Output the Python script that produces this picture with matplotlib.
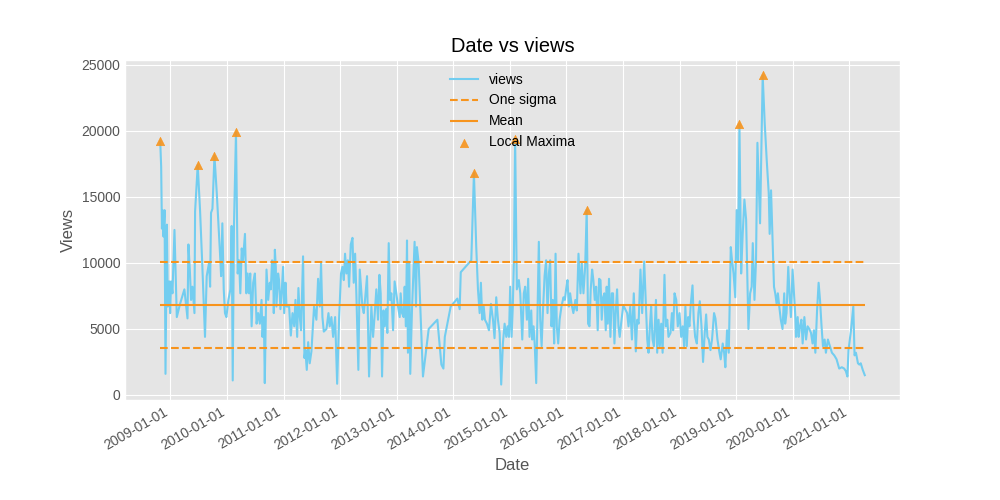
import matplotlib
matplotlib.use("Agg")
import matplotlib.pyplot as plt
import matplotlib.dates as mdates
import pandas as pd
from matplotlib import style

style.use("ggplot")
plt.rcParams["font.family"] = ["Liberation Sans", "DejaVu Sans"]

# weekly-ish samples
dates = [
    "2008-10-27", "2008-11-02", "2008-11-07", "2008-11-11", "2008-11-17", "2008-11-24", "2008-11-30",
    "2008-12-09", "2008-12-15", "2008-12-24", "2008-12-30", "2009-01-05", "2009-01-14", "2009-01-27",
    "2009-02-11", "2009-03-04", "2009-04-01", "2009-04-21", "2009-04-27", "2009-05-06", "2009-05-14",
    "2009-05-23", "2009-06-05", "2009-06-09", "2009-06-26", "2009-07-11", "2009-07-26", "2009-08-12",
    "2009-08-23", "2009-09-07", "2009-09-14", "2009-09-20", "2009-09-29", "2009-10-12", "2009-10-27",
    "2009-11-17", "2009-11-24", "2009-12-02", "2009-12-11", "2009-12-19", "2009-12-28", "2010-01-10",
    "2010-01-23", "2010-01-31", "2010-02-07", "2010-02-15", "2010-02-28", "2010-03-11", "2010-03-20",
    "2010-03-28", "2010-04-06", "2010-04-14", "2010-04-27", "2010-05-06", "2010-05-14", "2010-05-23",
    "2010-05-31", "2010-06-09", "2010-06-19", "2010-06-30", "2010-07-11", "2010-07-21", "2010-08-01",
    "2010-08-12", "2010-08-18", "2010-08-27", "2010-09-02", "2010-09-13", "2010-09-24", "2010-10-04",
    "2010-10-11", "2010-10-19", "2010-10-26", "2010-10-30", "2010-11-06", "2010-11-12", "2010-11-16",
    "2010-11-27", "2010-12-03", "2010-12-12", "2010-12-21", "2010-12-29", "2011-01-05", "2011-01-14",
    "2011-01-20", "2011-02-06", "2011-02-17", "2011-02-28", "2011-03-11", "2011-03-19", "2011-03-30",
    "2011-04-07", "2011-04-16", "2011-04-24", "2011-05-07", "2011-05-16", "2011-05-22", "2011-05-31",
    "2011-06-09", "2011-06-19", "2011-06-30", "2011-07-17", "2011-08-01", "2011-08-12", "2011-08-23",
    "2011-08-31", "2011-09-09", "2011-09-18", "2011-10-05", "2011-10-18", "2011-10-26", "2011-11-06",
    "2011-11-17", "2011-11-30", "2011-12-13", "2011-12-26", "2012-01-07", "2012-01-16", "2012-01-25",
    "2012-02-02", "2012-02-11", "2012-02-20", "2012-02-28", "2012-03-10", "2012-03-21", "2012-03-29",
    "2012-04-07", "2012-04-15", "2012-04-28", "2012-05-07", "2012-05-15", "2012-05-24", "2012-06-02",
    "2012-06-10", "2012-06-23", "2012-07-06", "2012-07-21", "2012-08-01", "2012-08-12", "2012-08-22",
    "2012-09-02", "2012-09-11", "2012-09-19", "2012-09-28", "2012-10-07", "2012-10-15", "2012-10-24",
    "2012-11-01", "2012-11-10", "2012-11-18", "2012-11-27", "2012-12-08", "2012-12-18", "2012-12-29",
    "2013-01-09", "2013-01-20", "2013-01-26", "2013-02-04", "2013-02-14", "2013-02-21", "2013-03-01",
    "2013-03-08", "2013-03-14", "2013-03-23", "2013-03-29", "2013-04-09", "2013-04-26", "2013-05-05",
    "2013-05-11", "2013-05-22", "2013-06-19", "2013-07-26", "2013-09-20", "2013-10-16", "2013-10-29",
    "2013-11-07", "2013-12-15", "2014-01-27", "2014-02-11", "2014-02-18", "2014-04-27", "2014-05-14",
    "2014-05-29", "2014-06-09", "2014-06-20", "2014-06-28", "2014-07-07", "2014-07-16", "2014-07-24",
    "2014-08-06", "2014-08-19", "2014-09-01", "2014-09-14", "2014-09-24", "2014-10-05", "2014-10-16",
    "2014-10-27", "2014-11-06", "2014-11-17", "2014-11-28", "2014-12-09", "2014-12-17", "2014-12-26",
    "2015-01-03", "2015-01-12", "2015-01-20", "2015-01-27", "2015-02-04", "2015-02-15", "2015-02-28",
    "2015-03-09", "2015-03-22", "2015-04-01", "2015-04-10", "2015-04-21", "2015-04-29", "2015-05-08",
    "2015-05-19", "2015-05-25", "2015-06-03", "2015-06-11", "2015-06-20", "2015-06-29", "2015-07-07",
    "2015-07-16", "2015-07-25", "2015-08-02", "2015-08-13", "2015-08-23", "2015-09-01", "2015-09-10",
    "2015-09-18", "2015-09-27", "2015-10-05", "2015-10-14", "2015-10-23", "2015-10-31", "2015-11-09",
    "2015-11-18", "2015-11-30", "2015-12-13", "2015-12-22", "2015-12-30", "2016-01-08", "2016-01-17",
    "2016-01-25", "2016-02-03", "2016-02-15", "2016-02-28", "2016-03-08", "2016-03-19", "2016-04-01",
    "2016-04-09", "2016-04-20", "2016-05-01", "2016-05-11", "2016-05-20", "2016-05-29", "2016-06-06",
    "2016-06-15", "2016-06-23", "2016-07-02", "2016-07-11", "2016-07-21", "2016-07-30", "2016-08-08",
    "2016-08-16", "2016-08-25", "2016-09-02", "2016-09-11", "2016-09-17", "2016-09-24", "2016-10-02",
    "2016-10-11", "2016-10-20", "2016-10-28", "2016-11-06", "2016-11-15", "2016-11-23", "2016-12-02",
    "2016-12-10", "2016-12-19", "2017-01-02", "2017-01-27", "2017-02-05", "2017-02-16", "2017-02-27",
    "2017-03-11", "2017-03-24", "2017-04-02", "2017-04-11", "2017-04-23", "2017-05-04", "2017-05-17",
    "2017-05-28", "2017-06-06", "2017-06-14", "2017-06-23", "2017-07-01", "2017-07-10", "2017-07-19",
    "2017-08-01", "2017-08-09", "2017-08-18", "2017-08-26", "2017-09-04", "2017-09-13", "2017-09-25",
    "2017-10-04", "2017-10-13", "2017-10-21", "2017-11-03", "2017-11-12", "2017-11-20", "2017-11-29",
    "2017-12-10", "2017-12-20", "2017-12-31", "2018-01-11", "2018-01-21", "2018-01-30", "2018-02-07",
    "2018-02-16", "2018-02-25", "2018-03-05", "2018-03-14", "2018-03-25", "2018-04-02", "2018-04-11",
    "2018-04-22", "2018-05-02", "2018-05-11", "2018-05-22", "2018-06-01", "2018-06-12", "2018-06-21",
    "2018-06-29", "2018-07-08", "2018-07-19", "2018-07-29", "2018-08-11", "2018-08-20", "2018-09-02",
    "2018-09-15", "2018-09-23", "2018-10-06", "2018-10-15", "2018-10-23", "2018-11-03", "2018-11-14",
    "2018-11-27", "2018-12-05", "2018-12-15", "2018-12-26", "2019-01-04", "2019-01-13", "2019-01-22",
    "2019-02-02", "2019-02-12", "2019-02-23", "2019-03-06", "2019-03-21", "2019-04-01", "2019-04-11",
    "2019-04-18", "2019-04-29", "2019-05-09", "2019-05-18", "2019-05-27", "2019-06-04", "2019-06-21",
    "2019-07-04", "2019-07-17", "2019-07-30", "2019-08-05", "2019-08-14", "2019-08-25", "2019-09-02",
    "2019-09-10", "2019-09-19", "2019-09-27", "2019-10-06", "2019-10-16", "2019-10-27", "2019-11-07",
    "2019-11-13", "2019-11-22", "2019-12-03", "2019-12-11", "2019-12-20", "2019-12-31", "2020-01-09",
    "2020-01-18", "2020-01-22", "2020-02-02", "2020-02-08", "2020-02-17", "2020-02-26", "2020-03-05",
    "2020-03-16", "2020-03-27", "2020-04-06", "2020-04-17", "2020-04-28", "2020-05-08", "2020-05-17",
    "2020-05-26", "2020-06-06", "2020-06-16", "2020-06-25", "2020-07-05", "2020-07-14", "2020-07-25",
    "2020-08-02", "2020-08-15", "2020-08-28", "2020-09-10", "2020-09-25", "2020-10-10", "2020-10-27",
    "2020-11-13", "2020-11-28", "2020-12-09", "2020-12-19", "2020-12-26", "2021-01-11", "2021-01-26",
    "2021-02-03", "2021-02-12", "2021-02-25", "2021-03-06", "2021-03-15", "2021-03-28", "2021-04-10",
]

views = [
    19200, 17300, 12600, 14000, 12000, 14000, 1600,
    12900, 6700, 8600, 6200, 8600, 7700, 12500,
    5900, 6900, 8000, 5800, 11400, 9500, 7200,
    8200, 6200, 13900, 17400, 14000, 9700, 4400,
    9000, 10000, 8200, 13800, 14100, 18100, 15300,
    10700, 9000, 13000, 8000, 6200, 5900, 7200,
    8000, 12800, 1100, 12800, 19900, 9200, 10200,
    7700, 11100, 10200, 12200, 7700, 9200, 7700,
    9200, 5200, 8500, 9200, 5400, 6200, 5400,
    7200, 4400, 5900, 900, 9500, 7200, 8500,
    8000, 10200, 10000, 6200, 11000, 9700, 6700,
    9200, 8700, 6500, 8000, 9700, 6200, 8500,
    6700, 6700, 4500, 6200, 5200, 7200, 4400,
    8100, 5900, 4900, 10500, 2800, 3400, 1900,
    4000, 2400, 3300, 6700, 5700, 8800, 6700,
    10000, 5900, 4800, 5000, 6200, 5200, 5900,
    4400, 5900, 850, 5900, 9200, 9700, 8700,
    10700, 9200, 10200, 8200, 11400, 11900, 8500,
    10700, 7700, 1900, 9500, 8200, 6700, 6200,
    7200, 9000, 1400, 6700, 4400, 6200, 8000,
    5700, 9100, 7700, 1400, 6400, 5200, 6500,
    4700, 11500, 7200, 7700, 4900, 8600, 7700,
    6700, 5900, 7700, 6200, 5900, 8200, 5200,
    11700, 3200, 10000, 1600, 6400, 11600, 6700,
    11200, 10000, 1400, 5000, 5700, 2300, 2000,
    4400, 6700, 7300, 6500, 9300, 10200, 16800,
    11200, 8000, 6200, 8500, 5700, 6700, 5700,
    5400, 4900, 6900, 5700, 4300, 7400, 5700,
    4700, 790, 3900, 5400, 4400, 5200, 4400,
    8200, 4400, 6700, 10200, 19400, 8000, 8700,
    7700, 4200, 7700, 8200, 5700, 8800, 4400,
    6400, 4200, 5200, 3700, 900, 6400, 11600,
    5700, 3700, 6200, 9000, 10200, 6200, 9200,
    10200, 5200, 7200, 3900, 10700, 5200, 3900,
    5700, 6700, 7400, 7200, 8000, 8700, 6700,
    7700, 6900, 6200, 7200, 6400, 10700, 7700,
    10000, 7700, 9700, 14000, 5400, 5200, 8000,
    9500, 8700, 7200, 8200, 4900, 8800, 8700,
    5700, 7400, 7700, 4900, 8200, 5400, 8800,
    4400, 7700, 7700, 3900, 6400, 8000, 5200,
    4400, 5400, 6800, 6200, 5200, 6700, 4200,
    7700, 3300, 5700, 5400, 9500, 6200, 10100,
    6900, 4200, 3200, 5200, 6700, 4200, 3700,
    7200, 3200, 5700, 3700, 5400, 3200, 9100,
    5200, 5700, 4400, 4700, 6200, 4900, 7700,
    7200, 5200, 6200, 4400, 5200, 3700, 6700,
    3700, 5900, 5200, 6900, 8300, 5700, 4400,
    3900, 6200, 7100, 5200, 2500, 4700, 6100,
    4400, 4200, 3400, 4200, 6200, 5800, 4200,
    3200, 2700, 3900, 3200, 2100, 4900, 3200,
    11200, 10200, 9200, 7400, 14000, 10200, 20500,
    9200, 12200, 14800, 13300, 5000, 7700, 8200,
    11500, 7200, 10200, 19100, 15800, 13000, 24200,
    20600, 17800, 15300, 12200, 15500, 11200, 8200,
    7700, 6900, 7700, 6700, 5700, 5000, 7700,
    5400, 6200, 9700, 7700, 5900, 9500, 7700,
    5900, 4400, 5900, 4400, 5200, 5700, 3900,
    5900, 4200, 5200, 5000, 4700, 3900, 4900,
    3200, 6400, 8500, 7200, 5200, 3700, 4200,
    3200, 4200, 3700, 3200, 3000, 2700, 2000,
    2100, 2000, 1800, 1400, 3400, 4900, 6700,
    3000, 3200, 2400, 2300, 2400, 1900, 1500,
]

local_max_dates = ["2008-10-27", "2009-06-26", "2009-10-12", "2010-02-28", "2014-05-14",
                   "2015-02-04", "2016-05-11", "2019-01-22", "2019-06-21"]

# mean and one sigma band
mean_views = 6840
sigma_views = 3260

df = pd.DataFrame({"date": pd.to_datetime(dates), "views": views})
peaks = df[df["date"].isin(pd.to_datetime(local_max_dates))]
start, end = df["date"].iloc[0], df["date"].iloc[-1]

fig, ax = plt.subplots(figsize=(10, 5), dpi=100)
ax.plot(df["date"], df["views"], color="#72CDF0", linewidth=1.5, label="views")
ax.hlines([mean_views + sigma_views, mean_views - sigma_views], start, end,
          colors="#F7941D", linestyles="--", linewidth=1.5, label="One sigma")
ax.hlines(mean_views, start, end, colors="#F7941D", linewidth=1.5, label="Mean")
ax.scatter(peaks["date"], peaks["views"], marker="^", color="#F7941D", alpha=0.9,
           label="Local Maxima", zorder=3)

ax.xaxis.set_major_locator(mdates.YearLocator())
ax.xaxis.set_major_formatter(mdates.DateFormatter("%Y-%m-%d"))
ax.tick_params(length=0)
ax.set_title("Date vs views")
ax.set_xlabel("Date")
ax.set_ylabel("Views")
ax.legend(loc="upper center", frameon=False)
fig.autofmt_xdate()

fig.savefig("out.png")
